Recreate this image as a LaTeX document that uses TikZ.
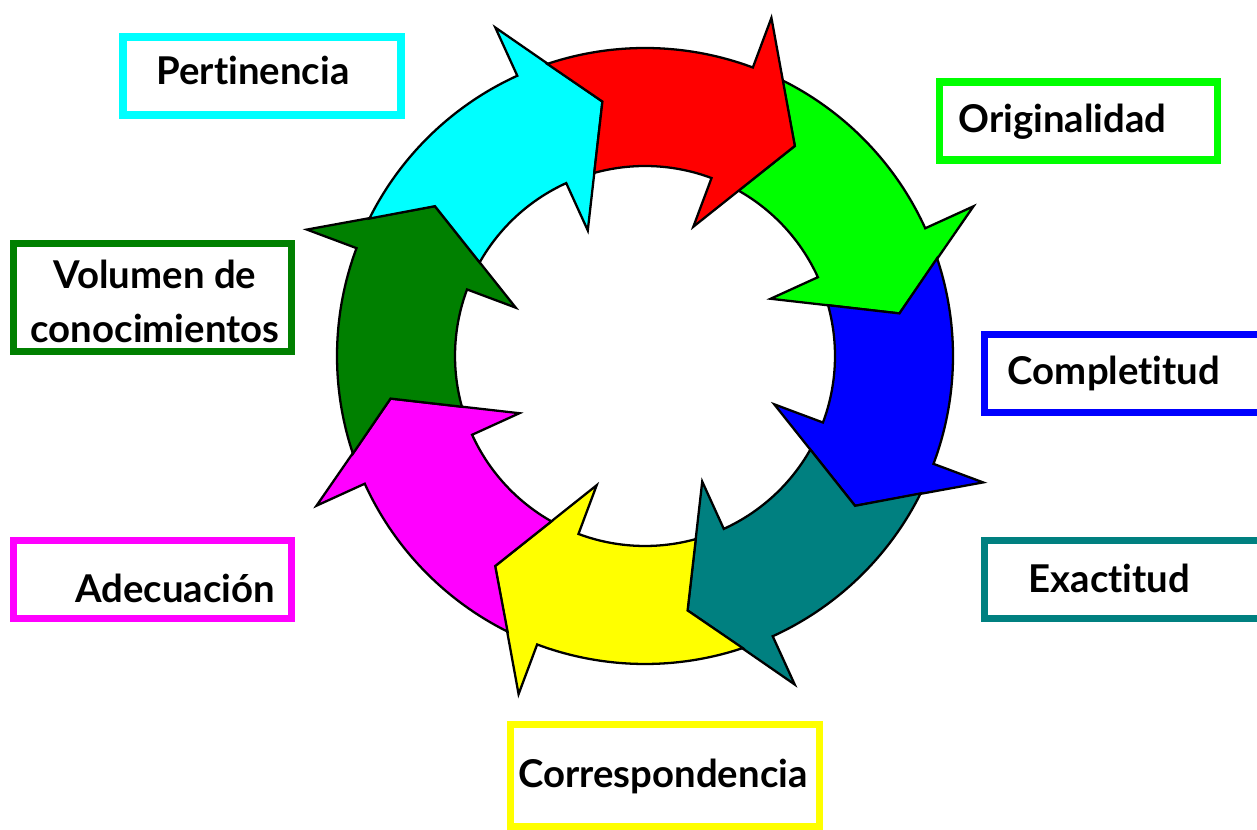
\documentclass[tikz,border=0pt]{standalone}
\usepackage{fontspec}
\setmainfont{Lato}[Ligatures=NoCommon]
\usepackage{xcolor}
\usetikzlibrary{positioning}
\definecolor{cyclegreen}{RGB}{0,255,0}
\definecolor{cycleblue}{RGB}{0,0,255}
\definecolor{cycleteal}{RGB}{0,128,128}
\definecolor{cycleyellow}{RGB}{255,255,0}
\definecolor{cyclemagenta}{RGB}{255,0,255}
\definecolor{cycledkgreen}{RGB}{0,128,0}
\definecolor{cyclecyan}{RGB}{0,255,255}
\definecolor{cyclered}{RGB}{255,0,0}

\begin{document}
\begin{tikzpicture}[
    critbox/.style={draw=#1, line width=4pt, fill=white, minimum width=5.56cm, minimum height=1.56cm, inner sep=0pt},
    crittext/.style={font=\fontsize{21.8}{30.7}\selectfont\bfseries, inner sep=0pt, anchor=base, align=center},
    ringarrow/.style={draw=black, line width=1.3pt, fill=#1}
  ]
  \useasboundingbox (0,0) rectangle (25.14,16.6);
  \coordinate (ring) at (12.9,9.48);

  % ring of arrows, clockwise from Originalidad
  \foreach \col [count=\i from 0] in {cyclegreen, cycleblue, cycleteal, cycleyellow, cyclemagenta, cycledkgreen, cyclecyan, cyclered} {
    \begin{scope}[shift={(ring)}, rotate=9.5-45*\i]
      \draw[ringarrow=\col] (45:5.16) -- (54:6.16) arc[start angle=54, end angle=15, radius=6.16]
        -- (15:7.22) -- (0:5.16) -- (15:2.76) -- (15:3.8) arc[start angle=15, end angle=51, radius=3.8] -- cycle; % tail follows previous head
    \end{scope}
  }

  % frames
  \node[critbox=cyclecyan] (pert) at (5.24,15.08) {};
  \node[critbox=cyclegreen] (orig) at (21.57,14.18) {};
  \node[critbox=cycleblue] (comp) at (22.47,9.13) {};
  \node[critbox=cycleteal] (exac) at (22.47,5.01) {};
  \node[critbox=cycleyellow, minimum width=6.18cm, minimum height=2.04cm] (corr) at (13.3,1.09) {};
  \node[critbox=cyclemagenta] (adec) at (3.05,5.01) {};
  \node[critbox=cycledkgreen, minimum height=2.16cm] (volu) at (3.05,10.65) {};

  % labels
  \node[crittext] (pert-t) at (5.06,14.9) {Pertinencia};
  \node[crittext] (orig-t) at (21.25,13.94) {Originalidad};
  \node[crittext] (comp-t) at (22.28,8.9) {Completitud};
  \node[crittext] (exac-t) at (22.19,4.74) {Exactitud};
  \node[crittext] (corr-t) at (13.26,0.84) {Correspondencia};
  \node[crittext] (adec-t) at (3.5,4.54) {Adecuación};
  \node[crittext, anchor=center] (volu-t) at (3.1,10.57) {Volumen de\\conocimientos};
\end{tikzpicture}
\end{document}
